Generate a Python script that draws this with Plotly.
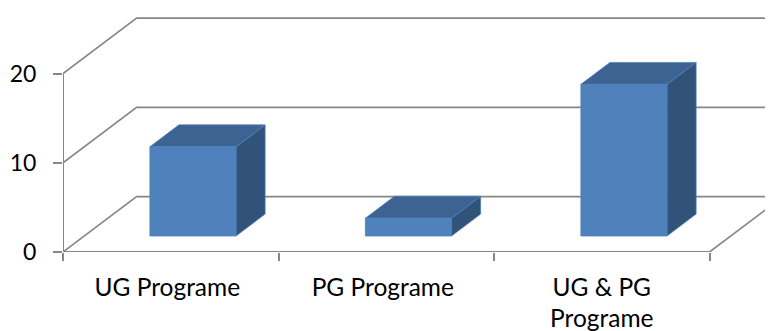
import plotly.graph_objects as go

categories = ["UG Programe", "PG Programe", "UG &amp; PG<br>Programe"]
values = [10, 2, 17]
y_ticks = [0, 10, 20]
label_nudge = [-0.016, -0.016, 0.0]

PAGE_MARGIN = 8
W, H = 773, 331 - PAGE_MARGIN
LEFT, BOTTOM = 63 - PAGE_MARGIN, 78.5
PX_X, PX_Y = 215.5, 8.94

WALL_DX, WALL_DY = 0.3415, 6.21
BAR_OFF_X, BAR_OFF_Y = 0.103, 1.79
BAR_W = 0.4
BAR_DX, BAR_DY = 0.135, 2.46

GRID = "#868686"
FRONT, TOP, SIDE, EDGE = "#4F81BD", "#3D6392", "#325379", "#4A7EBB"

fig = go.Figure()


def line(xs, ys, width=1.6, clip=True):
    fig.add_trace(go.Scatter(x=xs, y=ys, mode="lines", cliponaxis=clip,
                             line=dict(color=GRID, width=width),
                             hoverinfo="skip", showlegend=False))


def face(xs, ys, color):
    fig.add_trace(go.Scatter(x=xs, y=ys, mode="lines", fill="toself", fillcolor=color,
                             line=dict(color=EDGE, width=0.7),
                             hoverinfo="skip", showlegend=False))


n = len(categories)
for v in y_ticks:
    line([0, WALL_DX, n + WALL_DX], [v, v + WALL_DY, v + WALL_DY])
line([n, n + WALL_DX], [0, WALL_DY])
line([0, 0], [0, y_ticks[-1]], 2, False)
line([0, n], [0, 0], 2.2, False)

for i, v in enumerate(values):
    x0 = i + 0.5 + BAR_OFF_X - BAR_W / 2
    x1 = x0 + BAR_W
    y0 = BAR_OFF_Y
    y1 = BAR_OFF_Y + v
    face([x1, x1 + BAR_DX, x1 + BAR_DX, x1, x1],
         [y0, y0 + BAR_DY, y1 + BAR_DY, y1, y0], SIDE)
    face([x0, x0 + BAR_DX, x1 + BAR_DX, x1, x0],
         [y1, y1 + BAR_DY, y1 + BAR_DY, y1, y1], TOP)
    face([x0, x1, x1, x0, x0], [y0, y0, y1, y1, y0], FRONT)

fig.update_layout(
    width=W, height=H, autosize=False,
    margin=dict(l=LEFT, r=0, t=0, b=BOTTOM, pad=0),
    paper_bgcolor="white", plot_bgcolor="white",
    font=dict(family="Lato", color="black"),
    showlegend=False,
    xaxis=dict(range=[0, (W - LEFT) / PX_X], showgrid=False, zeroline=False, showline=False,
               tickmode="array", tickvals=[i + 0.5 + label_nudge[i] for i in range(n)],
               ticktext=categories,
               ticks="", tickangle=0, tickfont=dict(size=24.5, color="black"),
               ticklabelstandoff=18,
               minor=dict(tickmode="array", tickvals=list(range(n + 1)), ticks="outside",
                          ticklen=8, tickwidth=2, tickcolor=GRID, showgrid=False)),
    yaxis=dict(range=[0, (H - BOTTOM) / PX_Y], showgrid=False, zeroline=False, showline=False,
               tickmode="array", tickvals=y_ticks, ticks="outside", ticklen=9, tickwidth=2,
               tickcolor=GRID, tickfont=dict(size=23, color="black"), ticklabelstandoff=12),
)

fig.write_html("out.html", default_width=f"{W}px")
